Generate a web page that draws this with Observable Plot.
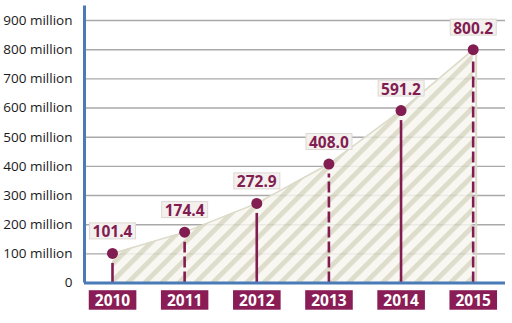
<!DOCTYPE html>
<html>
<head>
<meta charset="utf-8">
<script src="https://cdn.jsdelivr.net/npm/d3@7"></script>
<script src="https://cdn.jsdelivr.net/npm/@observablehq/plot@0.6"></script>
<style>
  html, body { margin: 0; padding: 0; background: #ffffff; }
  svg { display: block; }
</style>
</head>
<body>
<script>
const years = [2010, 2011, 2012, 2013, 2014, 2015];
const values = [101.4, 174.4, 272.9, 408.0, 591.2, 800.2];
const valueLabels = ["101.4", "174.4", "272.9", "408.0", "591.2", "800.2"];
const yTicks = [0, 100, 200, 300, 400, 500, 600, 700, 800, 900];
const yTickLabels = ["0", "100 million", "200 million", "300 million", "400 million",
  "500 million", "600 million", "700 million", "800 million", "900 million"];
const xDomain = [2009.612, 2015.448];
const yDomain = [0, 955];

const data = years.map((year, i) => ({year, value: values[i], label: valueLabels[i]}));

const maroon = "#821d51";
const blue = "#4a7bb7";

const defs = () => {
  const d = d3.create("svg:defs");
  const p = d.append("pattern")
    .attr("id", "hatch")
    .attr("patternUnits", "userSpaceOnUse")
    .attr("width", 12).attr("height", 12)
    .attr("patternTransform", "rotate(45)");
  p.append("rect").attr("x", 0).attr("y", 0).attr("width", 12).attr("height", 12)
    .attr("fill", "#f7f6f0");
  p.append("rect").attr("x", 0).attr("y", 0).attr("width", 4.8).attr("height", 12)
    .attr("fill", "#d8d6c1");
  return d.node();
};

const chart = Plot.plot({
  width: 512,
  height: 323,
  marginLeft: 84,
  marginRight: 7,
  marginTop: 4,
  marginBottom: 40.5,
  style: {fontFamily: "'Open Sans', sans-serif", background: "#ffffff"},
  x: {domain: xDomain, axis: null},
  y: {domain: yDomain, axis: null},
  marks: [
    defs,
    Plot.gridY(yTicks, {stroke: "#a9a9a9", strokeOpacity: 1, strokeWidth: 1.4}),
    Plot.areaY(data, {x: "year", y: "value", fill: "url(#hatch)", fillOpacity: 0.85}),
    Plot.lineY(data, {x: "year", y: "value", stroke: "#dcdac8", strokeWidth: 1.5}),
    Plot.ruleX([years[years.length - 1]], {y1: 0, y2: values[values.length - 1], stroke: "#dcdac8", strokeWidth: 2, dx: 3}),
    Plot.ruleX(data, {filter: (d, i) => i % 2 === 0, x: "year", y1: 0, y2: "value", stroke: maroon, strokeWidth: 2.6, insetBottom: -10}),
    Plot.ruleX(data, {filter: (d, i) => i % 2 === 1, x: "year", y1: 0, y2: "value", stroke: maroon, strokeWidth: 2.6, insetBottom: -10, strokeDasharray: "11,4"}),
    Plot.ruleY([0], {stroke: blue, strokeWidth: 3}),
    Plot.ruleX([xDomain[0]], {y1: 0, y2: yDomain[1], stroke: blue, strokeWidth: 3, insetBottom: -1.5}),
    Plot.dot(data, {x: "year", y: "value", r: 5.5, fill: maroon}),
    Plot.text(yTicks, {
      x: xDomain[0], y: d => d, text: (d, i) => yTickLabels[i],
      textAnchor: "end", dx: -12, fontSize: 13.5, fill: "#1a1a1a"
    }),
    Plot.text(data, {
      x: "year", y: "value", text: "label", dy: -21,
      fontSize: 15.5, fontWeight: "bold", fill: maroon
    }),
    Plot.text(data, {
      x: "year", y: 0, text: d => String(d.year), dy: 18.5,
      fontSize: 15.5, fontWeight: "bold", fill: "#ffffff"
    })
  ]
});

document.body.append(chart);

const textGroups = chart.querySelectorAll('g[aria-label="text"]');

function boxes(g, padX, h, fill, stroke) {
  if (!g) return;
  g.querySelectorAll("text").forEach(t => {
    const b = t.getBBox();
    const cy = b.y + b.height / 2 - 0.5;
    const r = document.createElementNS("http://www.w3.org/2000/svg", "rect");
    r.setAttribute("x", b.x - padX);
    r.setAttribute("y", cy - h / 2);
    r.setAttribute("width", b.width + 2 * padX);
    r.setAttribute("height", h);
    r.setAttribute("fill", fill);
    if (stroke) { r.setAttribute("stroke", stroke); r.setAttribute("stroke-width", 1); }
    const tr = t.getAttribute("transform");
    if (tr) r.setAttribute("transform", tr);
    t.parentNode.insertBefore(r, t);
  });
}
boxes(textGroups[1], 3, 16, "#f3f0ee", "#ddd8d4");
boxes(textGroups[2], 6, 19.5, "#8a1d55", null);
</script>
</body>
</html>
